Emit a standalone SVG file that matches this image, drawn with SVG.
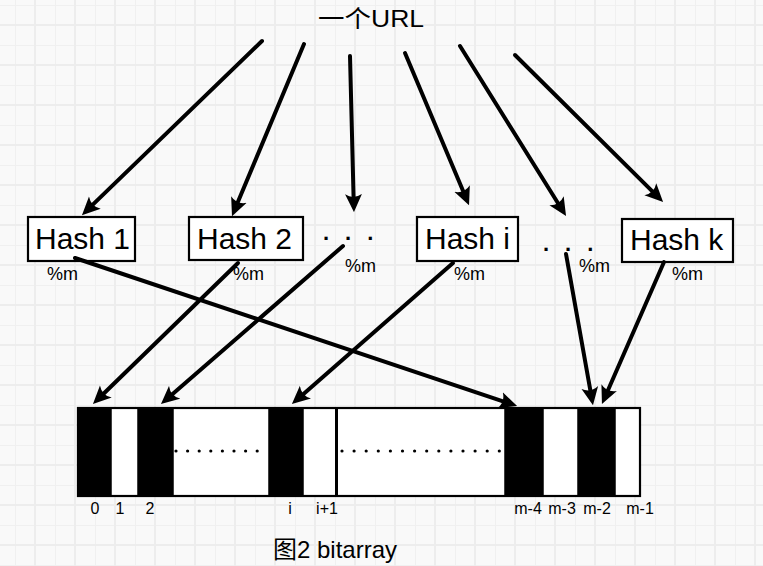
<svg xmlns="http://www.w3.org/2000/svg" width="763" height="566" viewBox="0 0 763 566">
<style>
.box{fill:#fff;stroke:#000;stroke-width:2.2}
.lbl{font-family:"Liberation Sans","Noto Sans CJK SC",sans-serif;fill:#000}
.hash{font-size:30px}
.mod{font-size:18px}
.idx{font-size:16px;text-anchor:middle}
.dots{font-size:22px;font-weight:bold}
.conn line{stroke:#000;stroke-width:4;stroke-linecap:round;fill:none;marker-end:url(#ah)}
.blk{fill:#000;stroke:#000;stroke-width:1.5}
</style>
<defs>
<pattern id="grid" width="40" height="40" patternUnits="userSpaceOnUse">
<rect width="40" height="40" fill="#f9f9f9"/>
<line x1="15.5" y1="0" x2="15.5" y2="40" stroke="#f0f0f0" stroke-width="1"/>
<line x1="0" y1="5.5" x2="40" y2="5.5" stroke="#f0f0f0" stroke-width="1"/>
<line x1="35" y1="0" x2="35" y2="40" stroke="#ededed" stroke-width="2"/>
<line x1="0" y1="25" x2="40" y2="25" stroke="#ededed" stroke-width="2"/>
</pattern>
<marker id="ah" viewBox="0 0 16 16" markerWidth="18" markerHeight="18" refX="7" refY="8" orient="auto" markerUnits="userSpaceOnUse">
<path d="M0,0.5 L16,8 L0,15.5 Q5,8 0,0.5 Z" fill="#000"/>
</marker>
</defs>
<rect width="763" height="566" fill="url(#grid)"/>

<g id="title"><text class="lbl" x="318" y="27" font-size="24" textLength="106" lengthAdjust="spacingAndGlyphs">一个URL</text></g>

<g id="hash1"><rect class="box" x="28" y="217" width="107" height="44"/><text class="lbl hash" x="35" y="249">Hash 1</text><text class="lbl mod" x="47" y="280">%m</text></g>
<g id="hash2"><rect class="box" x="189" y="217" width="114" height="43"/><text class="lbl hash" x="197" y="249">Hash 2</text><text class="lbl mod" x="233" y="280">%m</text></g>
<g id="dots1"><text class="lbl dots" x="323" y="240" letter-spacing="16">...</text><text class="lbl mod" x="345" y="272">%m</text></g>
<g id="hashi"><rect class="box" x="417" y="217" width="101" height="44"/><text class="lbl hash" x="425" y="249">Hash i</text><text class="lbl mod" x="454" y="280">%m</text></g>
<g id="dots2"><text class="lbl dots" x="543" y="251" letter-spacing="16">...</text><text class="lbl mod" x="579" y="272">%m</text></g>
<g id="hashk"><rect class="box" x="622" y="219" width="111" height="43"/><text class="lbl hash" x="630" y="250">Hash k</text><text class="lbl mod" x="672" y="280">%m</text></g>

<g id="bitarray">
<rect x="78" y="408" width="562" height="88" fill="#fff" stroke="#000" stroke-width="2.2"/>
<rect class="blk" x="79" y="408" width="32" height="88"/>
<rect class="blk" x="138" y="408" width="35" height="88"/>
<rect class="blk" x="269" y="408" width="34" height="88"/>
<line x1="336.5" y1="408" x2="336.5" y2="496" stroke="#000" stroke-width="3"/>
<rect class="blk" x="505" y="408" width="38" height="88"/>
<rect class="blk" x="578" y="408" width="37" height="88"/>
<line x1="176" y1="451" x2="268" y2="451" stroke="#000" stroke-width="3.2" stroke-linecap="round" stroke-dasharray="0 11.6"/>
<line x1="342" y1="451" x2="502" y2="451" stroke="#000" stroke-width="3.2" stroke-linecap="round" stroke-dasharray="0 12.1"/>
<text class="lbl idx" x="95" y="514">0</text>
<text class="lbl idx" x="120" y="514">1</text>
<text class="lbl idx" x="150" y="514">2</text>
<text class="lbl idx" x="290" y="514">i</text>
<text class="lbl idx" x="327" y="514">i+1</text>
<text class="lbl idx" x="528" y="514" font-size="17">m-4</text>
<text class="lbl idx" x="562" y="514" font-size="17">m-3</text>
<text class="lbl idx" x="597" y="514" font-size="17">m-2</text>
<text class="lbl idx" x="640" y="514" font-size="17">m-1</text>
</g>

<g id="caption"><text class="lbl" x="273" y="558" font-size="24" textLength="124" lengthAdjust="spacingAndGlyphs">图2 bitarray</text></g>

<g id="connectors" class="conn">
<line x1="262" y1="41" x2="89.2" y2="208.1"/>
<line x1="304" y1="44" x2="235.9" y2="206.8"/>
<line x1="350" y1="56" x2="353.7" y2="202"/>
<line x1="405" y1="53" x2="465.1" y2="195.8"/>
<line x1="460" y1="46" x2="560.7" y2="207.5"/>
<line x1="515" y1="55" x2="655.9" y2="194.9"/>
<line x1="75" y1="258" x2="507.5" y2="402.8"/>
<line x1="238" y1="263" x2="100.2" y2="397"/>
<line x1="343" y1="246" x2="168.6" y2="397.4"/>
<line x1="453" y1="263" x2="299.5" y2="397.4"/>
<line x1="566" y1="254" x2="591.2" y2="395.2"/>
<line x1="664" y1="262" x2="606" y2="394.8"/>
</g>
</svg>
